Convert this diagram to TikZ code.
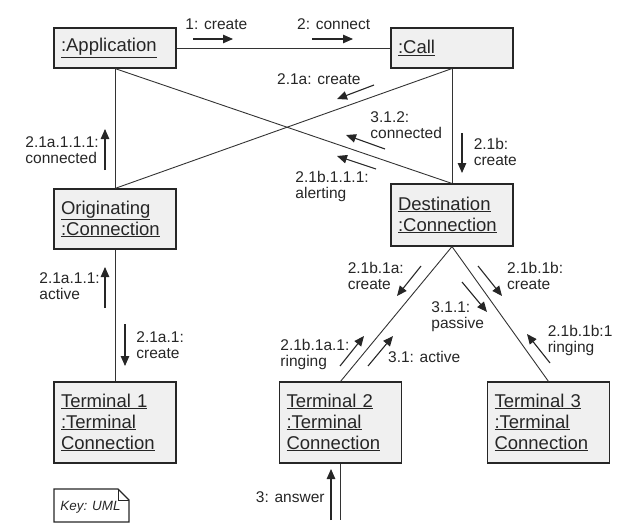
\documentclass[tikz,border=0pt]{standalone}
\usepackage{fontspec}
\setmainfont{Liberation Sans}
\usetikzlibrary{arrows.meta}

\begin{document}
\begin{tikzpicture}[x=1pt, y=-1pt, >={Triangle[length=10pt,width=8.5pt]},
      every node/.append style={font=\fontsize{15.5}{16}\selectfont,text=black!85,inner sep=0pt,align=left},
      line width=0.9pt]
    \tikzstyle{object} = [draw=black!85,fill=black!6,line width=1.1pt,minimum width=122pt,
      text width=108pt,inner xsep=7pt,font=\fontsize{18.5}{21}\selectfont]
    \tikzstyle{link} = [draw=black!80]
    \tikzstyle{msg} = [->,line width=1.1pt,draw=black!85]
    \tikzstyle{word} = [anchor=base west]
    \useasboundingbox (0,0) rectangle (623,532);
    % objects
    \node (app) [object,minimum height=40pt] at (115,48) {\underline{:Application}};
    \node (call) [object,minimum height=40pt] at (452,48) {\underline{:Call}};
    \node (orig) [object,minimum height=60pt] at (115,219) {\underline{Originating}\\\underline{:Connection}};
    \node (dest) [object,minimum height=62pt] at (452,215) {\underline{Destination}\\\underline{:Connection}};
    \node (term1) [object,minimum height=81pt] at (115,422.5) {\underline{Terminal 1}\\\underline{:Terminal}\\\underline{Connection}};
    \node (term2) [object,minimum height=81pt] at (340.5,422.5) {\underline{Terminal 2}\\\underline{:Terminal}\\\underline{Connection}};
    \node (term3) [object,minimum height=81pt] at (548.5,422.5) {\underline{Terminal 3}\\\underline{:Terminal}\\\underline{Connection}};
    % links
    \coordinate (user) at (340.5,520);
    \draw [link] (app) -- (call);
    \draw [link] (app) -- (orig);
    \draw [link] (app.south) -- (dest.north);
    \draw [link] (orig.north) -- (call.south);
    \draw [link] (call) -- (dest);
    \draw [link] (orig) -- (term1);
    \draw [link] (dest.south) -- (term2.north);
    \draw [link] (dest.south) -- (term3.north);
    \draw [link] (term2) -- (user);
    % messages (base of the last line)
    \node (create) [word] at (185,29.3) {1: create};
    \node (connect) [word] at (296.7,29.3) {2: connect};
    \node (acreate) [word] at (276.7,85) {2.1a: create};
    \node (connected) [word] at (370,138.7) {3.1.2:\\connected};
    \node (alerting) [word] at (295,198.7) {2.1b.1.1.1:\\alerting};
    \node (bcreate) [word] at (473.3,165) {2.1b:\\create};
    \node (aconnected) [word] at (25,163.5) {2.1a.1.1.1:\\connected};
    \node (aactive) [word] at (39,299.5) {2.1a.1.1:\\active};
    \node (tcreate) [word] at (136,358) {2.1a.1:\\create};
    \node (bacreate) [word] at (347.3,289.5) {2.1b.1a:\\create};
    \node (bbcreate) [word] at (506.7,289.5) {2.1b.1b:\\create};
    \node (passive) [word] at (431,328.5) {3.1.1:\\passive};
    \node (bbringing) [word] at (547.3,352.3) {2.1b.1b:1\\ringing};
    \node (baringing) [word] at (280,366) {2.1b.1a.1:\\ringing};
    \node (active) [word] at (387.7,362.7) {3.1: active};
    \node (answer) [anchor=base east] at (325,502.7) {3: answer};
    \coordinate (m1a) at (193,39);   \coordinate (m1b) at (233,39);
    \coordinate (m2a) at (312,39);   \coordinate (m2b) at (353,39);
    \coordinate (m3a) at (374,85);   \coordinate (m3b) at (337,99);
    \coordinate (m4a) at (385,149);  \coordinate (m4b) at (346,135);
    \coordinate (m5a) at (376,169);  \coordinate (m5b) at (337,156);
    \coordinate (m6a) at (462,133);  \coordinate (m6b) at (462,173);
    \coordinate (m7a) at (105,170);  \coordinate (m7b) at (105,129);
    \coordinate (m8a) at (105,308);  \coordinate (m8b) at (105,267);
    \coordinate (m9a) at (125,324);  \coordinate (m9b) at (125,366);
    \coordinate (m10a) at (421,266); \coordinate (m10b) at (397,296);
    \coordinate (m11a) at (478,266); \coordinate (m11b) at (502,296);
    \coordinate (m12a) at (462,282); \coordinate (m12b) at (487,312);
    \coordinate (m13a) at (550,363); \coordinate (m13b) at (527,334);
    \coordinate (m14a) at (340,366); \coordinate (m14b) at (364,336);
    \coordinate (m15a) at (368,366); \coordinate (m15b) at (393,336);
    \coordinate (m16a) at (331,520); \coordinate (m16b) at (331,469);
    \draw [msg] (m1a) -- (m1b);
    \draw [msg] (m2a) -- (m2b);
    \draw [msg] (m3a) -- (m3b);
    \draw [msg] (m4a) -- (m4b);
    \draw [msg] (m5a) -- (m5b);
    \draw [msg] (m6a) -- (m6b);
    \draw [msg] (m7a) -- (m7b);
    \draw [msg] (m8a) -- (m8b);
    \draw [msg] (m9a) -- (m9b);
    \draw [msg] (m10a) -- (m10b);
    \draw [msg] (m11a) -- (m11b);
    \draw [msg] (m12a) -- (m12b);
    \draw [msg] (m13a) -- (m13b);
    \draw [msg] (m14a) -- (m14b);
    \draw [msg] (m15a) -- (m15b);
    \draw [msg] (m16a) -- (m16b);
    % key
    \draw [draw=black!85,line width=1.1pt] (54,489) -- (118,489) -- (129,500) -- (129,522) -- (54,522) -- cycle;
    \draw [draw=black!85,line width=0.9pt] (118,489) -- (118,500) -- (129,500);
    \node (key) [anchor=base west,font=\fontsize{13.4}{14}\selectfont\itshape] at (60,510.7) {Key: UML};
  \end{tikzpicture}
\end{document}
